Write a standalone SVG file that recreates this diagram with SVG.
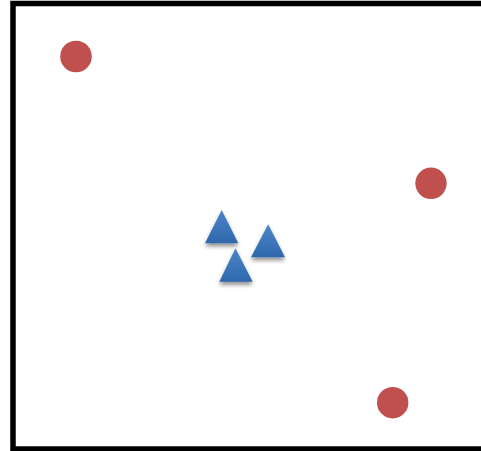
<svg xmlns="http://www.w3.org/2000/svg" width="481" height="451" viewBox="0 0 481 451">
<style>
.dot{fill:#C0504D}
.tri{fill:url(#blue);filter:url(#sh)}
</style>
<defs>
<linearGradient id="blue" x1="0" y1="0" x2="0" y2="1">
<stop offset="0" stop-color="#4A85C8"/>
<stop offset="1" stop-color="#2F68AC"/>
</linearGradient>
<filter id="sh" x="-30%" y="-30%" width="160%" height="180%">
<feGaussianBlur in="SourceAlpha" stdDeviation="2"/>
<feOffset dy="3" result="b"/>
<feComponentTransfer in="b" result="c"><feFuncA type="linear" slope="0.45"/></feComponentTransfer>
<feMerge><feMergeNode in="c"/><feMergeNode in="SourceGraphic"/></feMerge>
</filter>
</defs>
<rect width="481" height="451" fill="#fff"/>
<rect x="13" y="3.5" width="480" height="445.5" fill="none" stroke="#000" stroke-width="5.5"/>
<g id="c1"><circle class="dot" cx="76" cy="56.5" r="15.8"/></g>
<g id="c2"><circle class="dot" cx="431" cy="183.3" r="15.7"/></g>
<g id="c3"><circle class="dot" cx="392.7" cy="402.7" r="15.7"/></g>
<g id="t1"><polygon class="tri" points="221.7,210 205,243.3 238.3,243.3"/></g>
<g id="t2"><polygon class="tri" points="268.2,224.3 251,257.3 285,257.3"/></g>
<g id="t3"><polygon class="tri" points="235.5,248.3 219.3,281.7 252.7,281.7"/></g>
<g id="connectors"></g>
</svg>
